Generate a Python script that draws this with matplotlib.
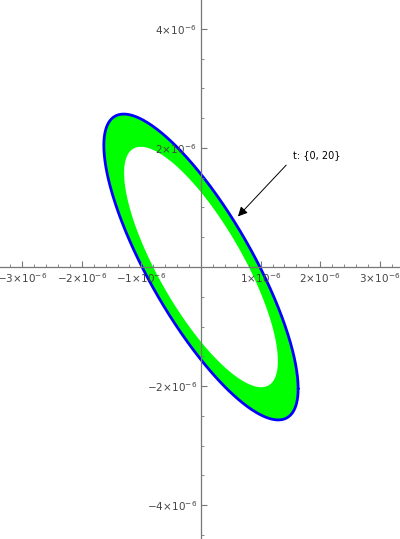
"""
Parametric plot of the swept band, t from 0 to 20
"""

# Libraries
import numpy as np
import matplotlib
matplotlib.use("Agg")
import matplotlib.pyplot as plt
from matplotlib.path import Path
from matplotlib.patches import PathPatch
from matplotlib.ticker import MultipleLocator, FixedLocator, FuncFormatter


# INPUTS
# Band edges as ellipses: x = a*cos(s), y = b*cos(s + phase)
outer_a = 1.63e-6
outer_b = 2.57e-6
outer_phase = 2.49
inner_a = 1.29e-6
inner_b = 2.02e-6
inner_phase = 2.47

# Ticks
x_major = [-3e-6, -2e-6, -1e-6, 1e-6, 2e-6, 3e-6]
y_major = [-4e-6, -2e-6, 2e-6, 4e-6]

# Annotation
note = "t: {0, 20}"
note_tip = (0.62e-6, 0.85e-6)
note_text = (1.54e-6, 1.88e-6)


plt.rcParams["mathtext.fontset"] = "dejavusans"

s = np.linspace(0, 2*np.pi, 600)
xo = outer_a*np.cos(s)
yo = outer_b*np.cos(s + outer_phase)
xi = inner_a*np.cos(s)
yi = inner_b*np.cos(s + inner_phase)

fig = plt.figure(figsize=(4.0, 5.39), dpi=100)
ax = fig.add_axes([0, 0, 1, 1])

# band = outer ellipse with inner ellipse cut out
verts = np.concatenate([np.column_stack([xo, yo]), np.column_stack([xi, yi])[::-1]])
codes = ([Path.MOVETO] + [Path.LINETO]*(len(s) - 2) + [Path.CLOSEPOLY]) * 2
band = PathPatch(Path(verts, codes), facecolor="#00ff00", edgecolor="none", zorder=1)
ax.add_patch(band)
ax.plot(xo, yo, color="#0000ff", lw=2.0, zorder=1.5,
        solid_capstyle="round", solid_joinstyle="round")

ax.annotate(note, xy=note_tip, xytext=note_text, fontsize=7, ha="left", va="center",
            arrowprops=dict(arrowstyle="-|>", color="black", lw=0.7, mutation_scale=14,
                            relpos=(0, 0.2), shrinkA=4, shrinkB=0))

ax.set_xlim(-3.372e-6, 3.339e-6)
ax.set_ylim(-4.571e-6, 4.487e-6)

# Mathematica-like axes through the origin
for side in ["top", "right"]:
    ax.spines[side].set_visible(False)
ax.spines["left"].set_position("zero")
ax.spines["bottom"].set_position("zero")
for side in ["left", "bottom"]:
    ax.spines[side].set_color("#777777")
    ax.spines[side].set_linewidth(0.9)

def sci(v, pos):
    k = int(round(v*1e6))
    return r"$%d\!\times\!10^{-6}$" % k

ax.xaxis.set_major_locator(FixedLocator(x_major))
ax.xaxis.set_minor_locator(MultipleLocator(0.2e-6))
ax.yaxis.set_major_locator(FixedLocator(y_major))
ax.yaxis.set_minor_locator(MultipleLocator(0.5e-6))
ax.xaxis.set_major_formatter(FuncFormatter(sci))
ax.yaxis.set_major_formatter(FuncFormatter(sci))
ax.tick_params(which="both", direction="in", color="#777777", labelcolor="#444444",
               labelsize=7.5)
ax.tick_params(which="major", length=4, width=0.8, pad=3)
ax.tick_params(which="minor", length=2, width=0.6)

fig.savefig("out.png", dpi=100)
